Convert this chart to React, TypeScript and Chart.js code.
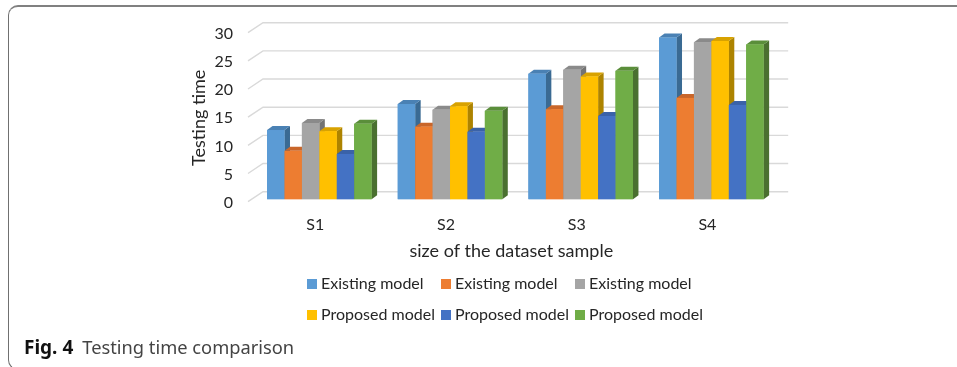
import React, { useEffect, useRef } from "react";
import { Chart, registerables } from "chart.js";

Chart.register(...registerables);

const FONT = "Lato, sans-serif";

const categories = ["S1", "S2", "S3", "S4"];
const seriesLabels = ["Existing model", "Existing model", "Existing model", "Proposed model", "Proposed model", "Proposed model"];
const existingA = [12.3, 16.9, 22.3, 28.7];
const existingB = [8.6, 12.9, 16.0, 18.0];
const existingC = [13.55, 15.9, 23.0, 27.9];
const proposedA = [12.1, 16.5, 21.8, 28.1];
const proposedB = [8.05, 12.0, 14.8, 16.75];
const proposedC = [13.4, 15.7, 22.8, 27.5];
const seriesValues = [existingA, existingB, existingC, proposedA, proposedB, proposedC];
const frontColors = ["#5b9bd5", "#ed7d31", "#a5a5a5", "#ffc000", "#4472c4", "#70ad47"];
const sideColors = ["#3a6a93", "#a85620", "#737373", "#ad8300", "#2f5190", "#4a7030"];
const topColors = ["#4a81b4", "#c9662a", "#8a8a8a", "#d8a200", "#3a62a8", "#5a8e3a"];

const DEPTH_X = 5.5;
const DEPTH_Y = 4;
const WALL_X = 9;
const WALL_Y = 7.6;
const LEGEND_COLUMNS = [307, 441, 575];
const LEGEND_ROWS = [284, 315];

// Nudges an axis title along the canvas without moving the axis itself.
function offsetTitle(scale: any, dx: number, dy: number) {
  if (scale.$titleOffset) return;
  scale.$titleOffset = true;
  const draw = scale.drawTitle.bind(scale);
  scale.drawTitle = () => {
    scale.ctx.save();
    scale.ctx.translate(dx, dy);
    draw();
    scale.ctx.restore();
  };
}

// Back wall, floor edge and the slanted tick stubs of the 3D-styled axes.
const wallPlugin = {
  id: "wall",
  beforeDatasetsDraw(chart: any) {
    const { ctx, scales, chartArea } = chart;
    const yScale = scales.y;
    ctx.save();
    ctx.strokeStyle = "#d9d9d9";
    ctx.lineWidth = 1.4;
    yScale.ticks.forEach((t: any) => {
      const y = yScale.getPixelForValue(t.value);
      ctx.beginPath();
      ctx.moveTo(chartArea.left - 6, y + 2.4);
      ctx.lineTo(chartArea.left + WALL_X, y - WALL_Y);
      ctx.lineTo(chartArea.right + 11.5, y - WALL_Y);
      ctx.stroke();
    });
    ctx.restore();
  },
  // Side and top faces of each bar, taken from the bar elements themselves.
  afterDatasetsDraw(chart: any) {
    const { ctx } = chart;
    ctx.save();
    const metas = chart.getSortedVisibleDatasetMetas();
    const count = categories.length;
    for (let c = 0; c < count; c++) {
      metas.forEach((meta: any, s: number) => {
        const bar = meta.data[c];
        const right = bar.x + bar.width / 2;
        const left = bar.x - bar.width / 2;
        ctx.fillStyle = sideColors[s];
        ctx.beginPath();
        ctx.moveTo(right, bar.y);
        ctx.lineTo(right + DEPTH_X, bar.y - DEPTH_Y);
        ctx.lineTo(right + DEPTH_X, bar.base - DEPTH_Y);
        ctx.lineTo(right, bar.base);
        ctx.closePath();
        ctx.fill();
        ctx.fillStyle = topColors[s];
        ctx.beginPath();
        ctx.moveTo(left, bar.y);
        ctx.lineTo(left + DEPTH_X, bar.y - DEPTH_Y);
        ctx.lineTo(right + DEPTH_X, bar.y - DEPTH_Y);
        ctx.lineTo(right, bar.y);
        ctx.closePath();
        ctx.fill();
      });
      // Front faces go on last so a taller neighbour's side stays behind the next bar.
      metas.forEach((meta: any, s: number) => {
        const bar = meta.data[c];
        ctx.fillStyle = frontColors[s];
        ctx.fillRect(bar.x - bar.width / 2, bar.y, bar.width, bar.base - bar.y);
      });
    }
    ctx.restore();
  },
  // Two-row legend with fixed columns.
  afterDraw(chart: any) {
    const { ctx } = chart;
    ctx.save();
    ctx.font = `16px ${FONT}`;
    ctx.textBaseline = "middle";
    chart.data.datasets.forEach((d: any, i: number) => {
      const x = LEGEND_COLUMNS[i % 3];
      const y = LEGEND_ROWS[Math.floor(i / 3)];
      ctx.fillStyle = d.backgroundColor;
      ctx.fillRect(x, y - 5, 10, 10);
      ctx.fillStyle = "#262626";
      ctx.fillText(d.label, x + 14, y);
    });
    ctx.restore();
  },
};

export default function App() {
  const ref = useRef<HTMLCanvasElement>(null);
  useEffect(() => {
    document.body.style.margin = "0";
    document.body.style.background = "#fff";
    const chart = new Chart(ref.current!, {
      type: "bar",
      data: {
        labels: categories,
        datasets: seriesValues.map((values, i) => ({
          label: seriesLabels[i],
          data: values,
          backgroundColor: frontColors[i],
        })),
      },
      options: {
        animation: false,
        responsive: false,
        events: [],
        layout: { padding: { left: 188.5, right: 180.3, top: 30.3, bottom: 105 } },
        datasets: { bar: { categoryPercentage: 0.8, barPercentage: 1 } },
        plugins: { legend: { display: false }, tooltip: { enabled: false } },
        scales: {
          x: {
            position: "bottom",
            grid: { display: false },
            border: { display: false },
            afterFit(scale: any) {
              scale.height = 62.7;
              offsetTitle(scale, -4, 0);
            },
            ticks: { color: "#262626", font: { family: FONT, size: 16 }, padding: 8, labelOffset: -4, maxRotation: 0 },
            title: {
              display: true,
              text: "size of the dataset sample",
              color: "#262626",
              font: { family: FONT, size: 18 },
              padding: { top: 11, bottom: 0 },
            },
          },
          y: {
            min: 0,
            max: 30,
            grid: { display: false },
            border: { display: false },
            afterFit(scale: any) {
              scale.width = 65.5;
              offsetTitle(scale, 0, 3);
            },
            ticks: { stepSize: 5, color: "#262626", font: { family: FONT, size: 16 }, padding: 13, labelOffset: 3.5 },
            title: {
              display: true,
              text: "Testing time",
              color: "#262626",
              font: { family: FONT, size: 18 },
              padding: { top: 0, bottom: 0 },
            },
          },
        },
      },
      plugins: [wallPlugin],
    } as any);
    return () => chart.destroy();
  }, []);
  return (
    <div style={{ position: "relative", width: 957, height: 367, overflow: "hidden", background: "#fff" }}>
      <div
        style={{
          position: "absolute",
          left: 8,
          top: 5,
          width: 1000,
          height: 365,
          boxSizing: "border-box",
          borderTop: "2px solid #808080",
          borderLeft: "1.5px solid #707070",
          borderBottom: "1px solid #707070",
          borderRadius: 10,
        }}
      />
      <canvas ref={ref} width={957} height={367} style={{ position: "absolute", left: 0, top: 0 }} />
      <div
        style={{
          position: "absolute",
          left: 24,
          top: 334,
          fontFamily: "'Noto Sans', sans-serif",
          fontSize: 18.3,
          color: "#444",
          whiteSpace: "nowrap",
        }}
      >
        <b style={{ color: "#111", fontSize: 19 }}>Fig. 4</b>
        <span style={{ marginLeft: 9 }}>Testing time comparison</span>
      </div>
    </div>
  );
}
